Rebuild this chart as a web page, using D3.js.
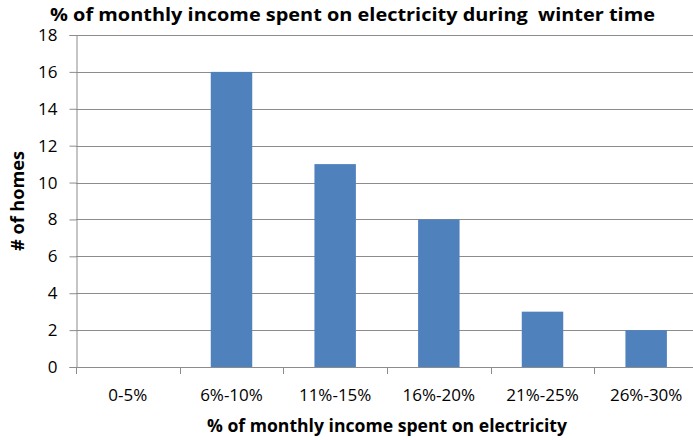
<!DOCTYPE html>
<html>
<head>
<meta charset="utf-8">
<script src="https://cdn.jsdelivr.net/npm/d3@7"></script>
<style>
  html, body { margin: 0; padding: 0; background: #fff; }
  svg { display: block; }
  text { font-family: "Open Sans", "Liberation Sans", sans-serif; fill: #000; }
</style>
</head>
<body>
<script>
// Share of monthly income spent on electricity in winter, number of homes per bracket
const categories = ["0-5%", "6%-10%", "11%-15%", "16%-20%", "21%-25%", "26%-30%"];
const homes = [0, 16, 11, 8, 3, 2];
const yTicks = [0, 2, 4, 6, 8, 10, 12, 14, 16, 18];

const W = 693, H = 440;
const margin = { left: 76, top: 35, right: -5, bottom: 73 };

const svg = d3.select("body").append("svg").attr("width", W).attr("height", H);

const x = d3.scaleBand()
  .domain(categories)
  .range([margin.left, W - margin.right])
  .paddingInner(0.6)
  .paddingOuter(0.3);

const y = d3.scaleLinear()
  .domain([0, 18])
  .range([H - margin.bottom, margin.top]);

const gridColor = "#8c8c8c";

// horizontal gridlines
svg.append("g")
  .selectAll("line")
  .data(yTicks)
  .join("line")
  .attr("x1", margin.left)
  .attr("x2", W)
  .attr("y1", d => Math.round(y(d)) + 0.5)
  .attr("y2", d => Math.round(y(d)) + 0.5)
  .attr("stroke", gridColor)
  .attr("stroke-width", 1);

// bars
svg.append("g")
  .selectAll("rect")
  .data(categories.map((c, i) => ({ c, v: homes[i] })))
  .join("rect")
  .attr("x", d => x(d.c))
  .attr("width", x.bandwidth())
  .attr("y", d => y(d.v))
  .attr("height", d => y(0) - y(d.v))
  .attr("fill", "#4f81bd");

// y axis
const yAxis = svg.append("g")
  .attr("transform", `translate(${margin.left + 0.5},0)`)
  .call(d3.axisLeft(y).tickValues(yTicks).tickSize(7).tickPadding(12).tickFormat(d3.format("d")));
yAxis.select(".domain").attr("stroke", gridColor);
yAxis.selectAll(".tick line").attr("stroke", gridColor);
yAxis.selectAll(".tick text").style("font-size", "17px").attr("fill", "#000");

// x axis with tick marks at category boundaries
const step = x.step();
const boundaries = d3.range(categories.length + 1).map(i => margin.left + i * step);
const xAxisG = svg.append("g");
xAxisG.append("line")
  .attr("x1", margin.left).attr("x2", W)
  .attr("y1", Math.round(y(0)) + 0.5).attr("y2", Math.round(y(0)) + 0.5)
  .attr("stroke", gridColor);
xAxisG.selectAll("line.tk")
  .data(boundaries)
  .join("line")
  .attr("class", "tk")
  .attr("x1", d => Math.round(d) + 0.5).attr("x2", d => Math.round(d) + 0.5)
  .attr("y1", Math.round(y(0))).attr("y2", Math.round(y(0)) + 7)
  .attr("stroke", gridColor);
xAxisG.selectAll("text")
  .data(categories)
  .join("text")
  .attr("x", d => x(d) + x.bandwidth() / 2)
  .attr("y", 401)
  .attr("text-anchor", "middle")
  .style("font-size", "17px")
  .text(d => d);

// title
svg.append("text")
  .attr("x", 50).attr("y", 21)
  .attr("xml:space", "preserve")
  .attr("textLength", 605)
  .attr("lengthAdjust", "spacingAndGlyphs")
  .style("font-size", "17px")
  .style("font-weight", "bold")
  .text("% of monthly income spent on electricity during  winter time");

// axis titles
svg.append("text")
  .attr("x", 207).attr("y", 432)
  .attr("textLength", 360)
  .attr("lengthAdjust", "spacingAndGlyphs")
  .style("font-size", "17px")
  .style("font-weight", "bold")
  .text("% of monthly income spent on electricity");

svg.append("text")
  .attr("transform", `translate(24,${(y(0) + y(18)) / 2}) rotate(-90)`)
  .attr("text-anchor", "middle")
  .attr("textLength", 100)
  .attr("lengthAdjust", "spacingAndGlyphs")
  .style("font-size", "17px")
  .style("font-weight", "bold")
  .text("# of homes");
</script>
</body>
</html>
